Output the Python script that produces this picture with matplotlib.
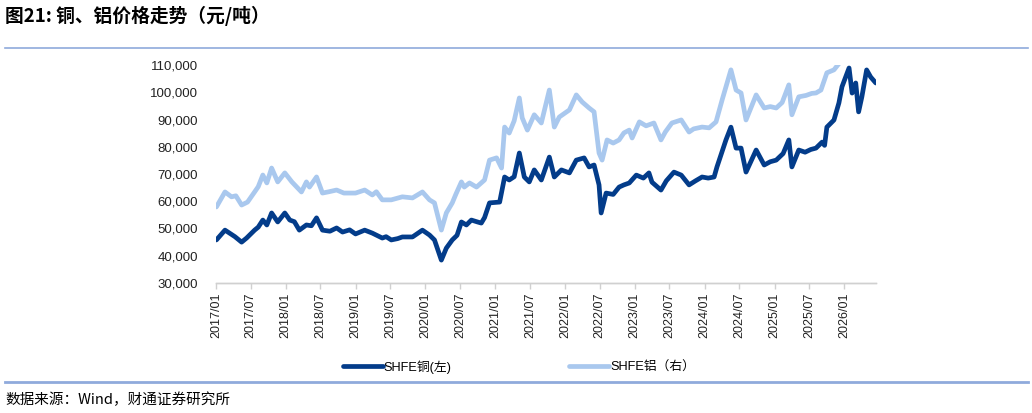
import matplotlib
matplotlib.use("Agg")
import matplotlib.pyplot as plt
from matplotlib.lines import Line2D
import pandas as pd

plt.rcParams['font.family'] = ['Liberation Sans', 'Noto Sans CJK SC', 'DejaVu Sans']

# SHFE copper (left axis, 元/吨)
cu_dates = [
    "2017-01-03", "2017-02-17", "2017-03-13", "2017-04-10", "2017-05-15", "2017-06-10",
    "2017-07-22", "2017-08-10", "2017-09-03", "2017-09-24", "2017-10-19", "2017-11-20",
    "2017-12-27", "2018-01-22", "2018-02-15", "2018-03-13", "2018-04-19", "2018-05-15",
    "2018-06-11", "2018-07-12", "2018-08-20", "2018-09-24", "2018-10-25", "2018-12-01",
    "2019-01-01", "2019-02-18", "2019-03-30", "2019-05-21", "2019-06-10", "2019-07-07",
    "2019-08-10", "2019-09-03", "2019-10-26", "2019-12-17", "2020-01-23", "2020-02-18",
    "2020-03-25", "2020-04-20", "2020-05-21", "2020-06-15", "2020-07-08", "2020-08-03",
    "2020-08-29", "2020-09-30", "2020-10-20", "2020-11-06", "2020-12-02", "2021-01-24",
    "2021-02-19", "2021-03-15", "2021-04-10", "2021-05-07", "2021-06-02", "2021-06-28",
    "2021-07-24", "2021-08-30", "2021-10-11", "2021-11-06", "2021-12-13", "2022-01-24",
    "2022-03-01", "2022-04-11", "2022-05-07", "2022-06-02", "2022-06-28", "2022-07-09",
    "2022-08-04", "2022-09-10", "2022-10-11", "2022-11-05", "2022-12-03", "2023-01-09",
    "2023-02-15", "2023-03-16", "2023-04-01", "2023-05-18", "2023-06-15", "2023-07-25",
    "2023-09-01", "2023-10-12", "2023-11-15", "2023-12-19", "2024-01-20", "2024-02-20",
    "2024-03-06", "2024-04-22", "2024-05-18", "2024-06-14", "2024-07-10", "2024-08-05",
    "2024-09-27", "2024-11-08", "2024-12-10", "2025-01-10", "2025-02-15", "2025-03-17",
    "2025-04-02", "2025-05-08", "2025-06-10", "2025-07-10", "2025-08-06", "2025-09-07",
    "2025-09-20", "2025-10-02", "2025-11-08", "2025-12-04", "2025-12-20", "2026-01-26",
    "2026-02-11", "2026-03-02", "2026-03-17", "2026-04-03", "2026-04-28", "2026-05-19",
    "2026-06-15",
]
cu_vals = [
    45800, 49400, 48300, 47000, 45000, 46500,
    49400, 50500, 53100, 51300, 55700, 52400,
    55700, 53100, 52500, 49400, 51300, 51000,
    53900, 49400, 49000, 50200, 48700, 49500,
    48000, 49400, 48300, 46500, 47000, 45800,
    46300, 46900, 46900, 49400, 47600, 45800,
    38400, 42800, 45800, 47500, 52400, 51300,
    53100, 52400, 52000, 54000, 59400, 59700,
    68900, 67800, 69000, 77700, 68900, 67100,
    71500, 67800, 76200, 68900, 71500, 70400,
    75100, 75900, 72600, 73300, 66000, 55700,
    63000, 62500, 65200, 66000, 66700, 69600,
    68500, 70400, 67000, 64100, 67500, 70700,
    69600, 66000, 67500, 68900, 68500, 68900,
    72600, 82500, 87200, 79500, 79500, 70700,
    78800, 73300, 74500, 75100, 77500, 82500,
    72600, 78800, 78000, 79000, 79500, 81700,
    80500, 87200, 89800, 96100, 102000, 108900,
    99700, 103400, 92800, 98300, 108200, 105600,
    103400,
]

# SHFE aluminium (right axis, 元/吨, axis labels hidden in the original)
al_dates = [
    "2017-01-03", "2017-02-17", "2017-03-23", "2017-04-15", "2017-05-15", "2017-06-15",
    "2017-07-22", "2017-08-10", "2017-09-03", "2017-09-24", "2017-10-19", "2017-11-20",
    "2017-12-27", "2018-02-02", "2018-03-24", "2018-04-19", "2018-05-05", "2018-06-11",
    "2018-07-12", "2018-08-15", "2018-09-24", "2018-11-01", "2019-01-01", "2019-02-18",
    "2019-03-30", "2019-04-20", "2019-05-21", "2019-07-07", "2019-09-03", "2019-10-26",
    "2019-12-17", "2020-01-23", "2020-02-18", "2020-03-25", "2020-04-20", "2020-05-21",
    "2020-06-10", "2020-07-08", "2020-07-23", "2020-08-19", "2020-09-25", "2020-11-06",
    "2020-12-02", "2021-01-08", "2021-02-03", "2021-02-19", "2021-03-15", "2021-04-10",
    "2021-05-07", "2021-05-22", "2021-06-18", "2021-07-24", "2021-08-30", "2021-10-11",
    "2021-11-06", "2021-12-02", "2022-01-24", "2022-03-01", "2022-04-01", "2022-05-07",
    "2022-06-02", "2022-06-28", "2022-07-14", "2022-08-09", "2022-09-10", "2022-10-11",
    "2022-11-05", "2022-12-03", "2022-12-18", "2023-01-25", "2023-03-01", "2023-04-11",
    "2023-05-18", "2023-06-10", "2023-07-14", "2023-09-01", "2023-10-12", "2023-11-05",
    "2023-12-19", "2024-01-25", "2024-03-01", "2024-04-02", "2024-05-18", "2024-06-14",
    "2024-07-10", "2024-08-05", "2024-09-27", "2024-11-08", "2024-12-10", "2025-01-10",
    "2025-02-10", "2025-03-17", "2025-04-02", "2025-05-08", "2025-06-15", "2025-07-15",
    "2025-08-06", "2025-09-01", "2025-10-02", "2025-11-08", "2025-12-04", "2025-12-20",
]
al_vals = [
    13000, 14480, 14000, 14100, 13190, 13480,
    14480, 15000, 16150, 15370, 16840, 15470,
    16360, 15470, 14480, 15470, 14960, 15960,
    14370, 14500, 14670, 14370, 14370, 14670,
    14180, 14500, 13700, 13700, 14000, 13890,
    14480, 13700, 13400, 10720, 12410, 13400,
    14300, 15470, 14960, 15370, 14960, 15660,
    17620, 17840, 16840, 20880, 20290, 21500,
    23750, 21790, 20580, 22090, 21280, 24530,
    20880, 21870, 22570, 24050, 23350, 22760,
    22380, 18320, 17620, 19610, 19300, 19610,
    20300, 20580, 19800, 21390, 21000, 21280,
    19610, 20400, 21280, 21580, 20390, 20700,
    20880, 20800, 21390, 23560, 26520, 24530,
    24240, 21580, 24050, 22760, 22900, 22760,
    23300, 25040, 22090, 23860, 24000, 24200,
    24240, 24530, 26230, 26520, 27140, 28080,
]

tick_dates = pd.date_range("2017-01-01", "2026-01-01", freq="6MS")
tick_labels = [d.strftime("%Y/%m") for d in tick_dates]

DARK = "#033C8A"
LIGHT = "#A9C8EE"

fig = plt.figure(figsize=(10.32, 4.13), dpi=100)
ax = fig.add_axes([216 / 1032, 1 - 283 / 413, (876 - 216) / 1032, (283 - 65) / 413])
ax2 = ax.twinx()
ax.set_zorder(ax2.get_zorder() + 1)
ax.patch.set_visible(False)

cu_x = pd.to_datetime(cu_dates)
al_x = pd.to_datetime(al_dates)
l1, = ax.plot(cu_x, cu_vals, color=DARK, lw=3.4, solid_capstyle="round", solid_joinstyle="round")
l2, = ax2.plot(al_x, al_vals, color=LIGHT, lw=3.4, solid_capstyle="round", solid_joinstyle="round")

ax.set_ylim(30000, 110000)
ax.set_yticks(range(30000, 110001, 10000))
ax.set_yticklabels([f"{v:,}" for v in range(30000, 110001, 10000)], fontsize=9.5, color="#222222")
ax.tick_params(axis="y", length=0, pad=13)
ax2.set_ylim(5500, 27000)
ax2.set_yticks([])

ax.set_xlim(pd.Timestamp("2017-01-01"), pd.Timestamp("2026-06-16"))
ax.set_xticks(tick_dates)
ax.set_xticklabels(tick_labels, rotation=90, fontsize=9, color="#222222")
ax.tick_params(axis="x", length=4, color="#D0D0D0", width=1, pad=3)

for a in (ax, ax2):
    for side in ("top", "right", "left"):
        a.spines[side].set_visible(False)
    a.spines["bottom"].set_color("#D0D0D0")
    a.spines["bottom"].set_linewidth(1)

fig.legend([l1, l2], ["SHFE铜(左)", "SHFE铝（右）"], loc="center", bbox_to_anchor=(0.503, 1 - 367 / 413),
           ncol=2, frameon=False, fontsize=9.2, handlelength=3.1, handletextpad=0.1, columnspacing=9.2)

fig.text(5 / 1032, 1 - 16 / 413, "图21: 铜、铝价格走势（元/吨）", fontsize=13.5, fontweight="bold",
         family=["Noto Sans CJK SC"], va="center", ha="left")
fig.add_artist(Line2D([5 / 1032, 1028 / 1032], [1 - 48 / 413] * 2, transform=fig.transFigure,
                      color="#8FAADC", lw=1.2))
fig.add_artist(Line2D([5 / 1032, 1028 / 1032], [1 - 382 / 413] * 2, transform=fig.transFigure,
                      color="#8FAADC", lw=2))
fig.text(5 / 1032, 1 - 400 / 413, "数据来源：Wind，财通证券研究所", fontsize=10.5,
         family=["Noto Sans CJK SC"], va="center", ha="left")

fig.savefig("out.png", dpi=100)
